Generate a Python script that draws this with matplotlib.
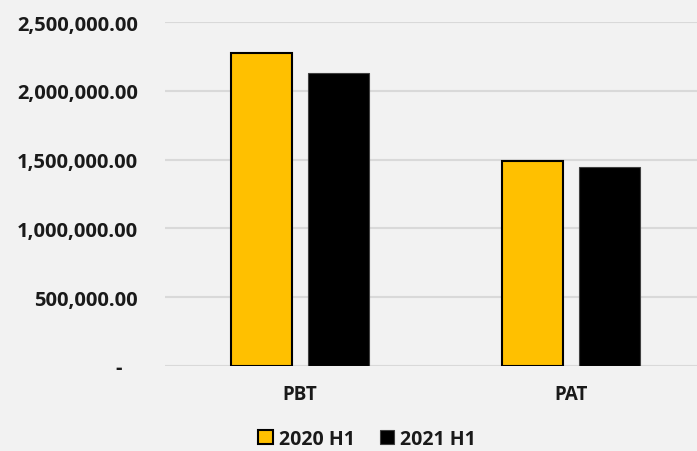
import matplotlib
matplotlib.use("Agg")
import matplotlib.pyplot as plt
import numpy as np
from matplotlib.ticker import FuncFormatter

categories = ["PBT", "PAT"]
series_names = ["2020 H1", "2021 H1"]
values_2020 = [2275000, 1490000]
values_2021 = [2130000, 1447000]
yticks = [0, 500000, 1000000, 1500000, 2000000, 2500000]

plt.rcParams['font.family'] = ['Open Sans', 'DejaVu Sans']
bg = '#F2F2F2'
fig = plt.figure(figsize=(6.97, 4.52), dpi=100, facecolor=bg)
ax = fig.add_axes([164.5/697, 1-367/452, (697-164.5)/697, (367-23)/452], facecolor=bg)

x = np.arange(len(categories))
w = 0.225
off = 0.143
ax.bar(x - off, values_2020, w, color='#FFC000', edgecolor='black', linewidth=1.5, label=series_names[0], zorder=3)
ax.bar(x + off, values_2021, w, color='black', edgecolor='#404040', linewidth=0.8, label=series_names[1], zorder=3)

ax.set_xlim(-0.5, (697-164.5)/271 - 0.5)
ax.set_ylim(0, 2500000)
ax.set_yticks(yticks)
ax.yaxis.set_major_formatter(FuncFormatter(lambda v, p: "-   " if v == 0 else f"{v:,.2f}"))
ax.grid(axis='y', color='#D9D9D9', linewidth=1.5, zorder=0)
ax.set_xticks(x)
ax.set_xticklabels(categories)
for s in ax.spines.values():
    s.set_visible(False)
ax.tick_params(axis='y', length=0, labelsize=14.5, pad=19)
ax.tick_params(axis='x', length=0, labelsize=13.5, pad=13)
for lab in ax.get_xticklabels() + ax.get_yticklabels():
    lab.set_fontweight('bold')
    lab.set_color('#1A1A1A')

leg = fig.legend(loc='center', bbox_to_anchor=(367/697, 1-440/452), ncol=2, frameon=False,
                 prop={'weight': 'bold', 'size': 14}, handlelength=0.75, handleheight=0.75,
                 handletextpad=0.3, columnspacing=1.3)
for t in leg.get_texts():
    t.set_color('#1A1A1A')

fig.savefig("out.png", dpi=100, facecolor=bg)
